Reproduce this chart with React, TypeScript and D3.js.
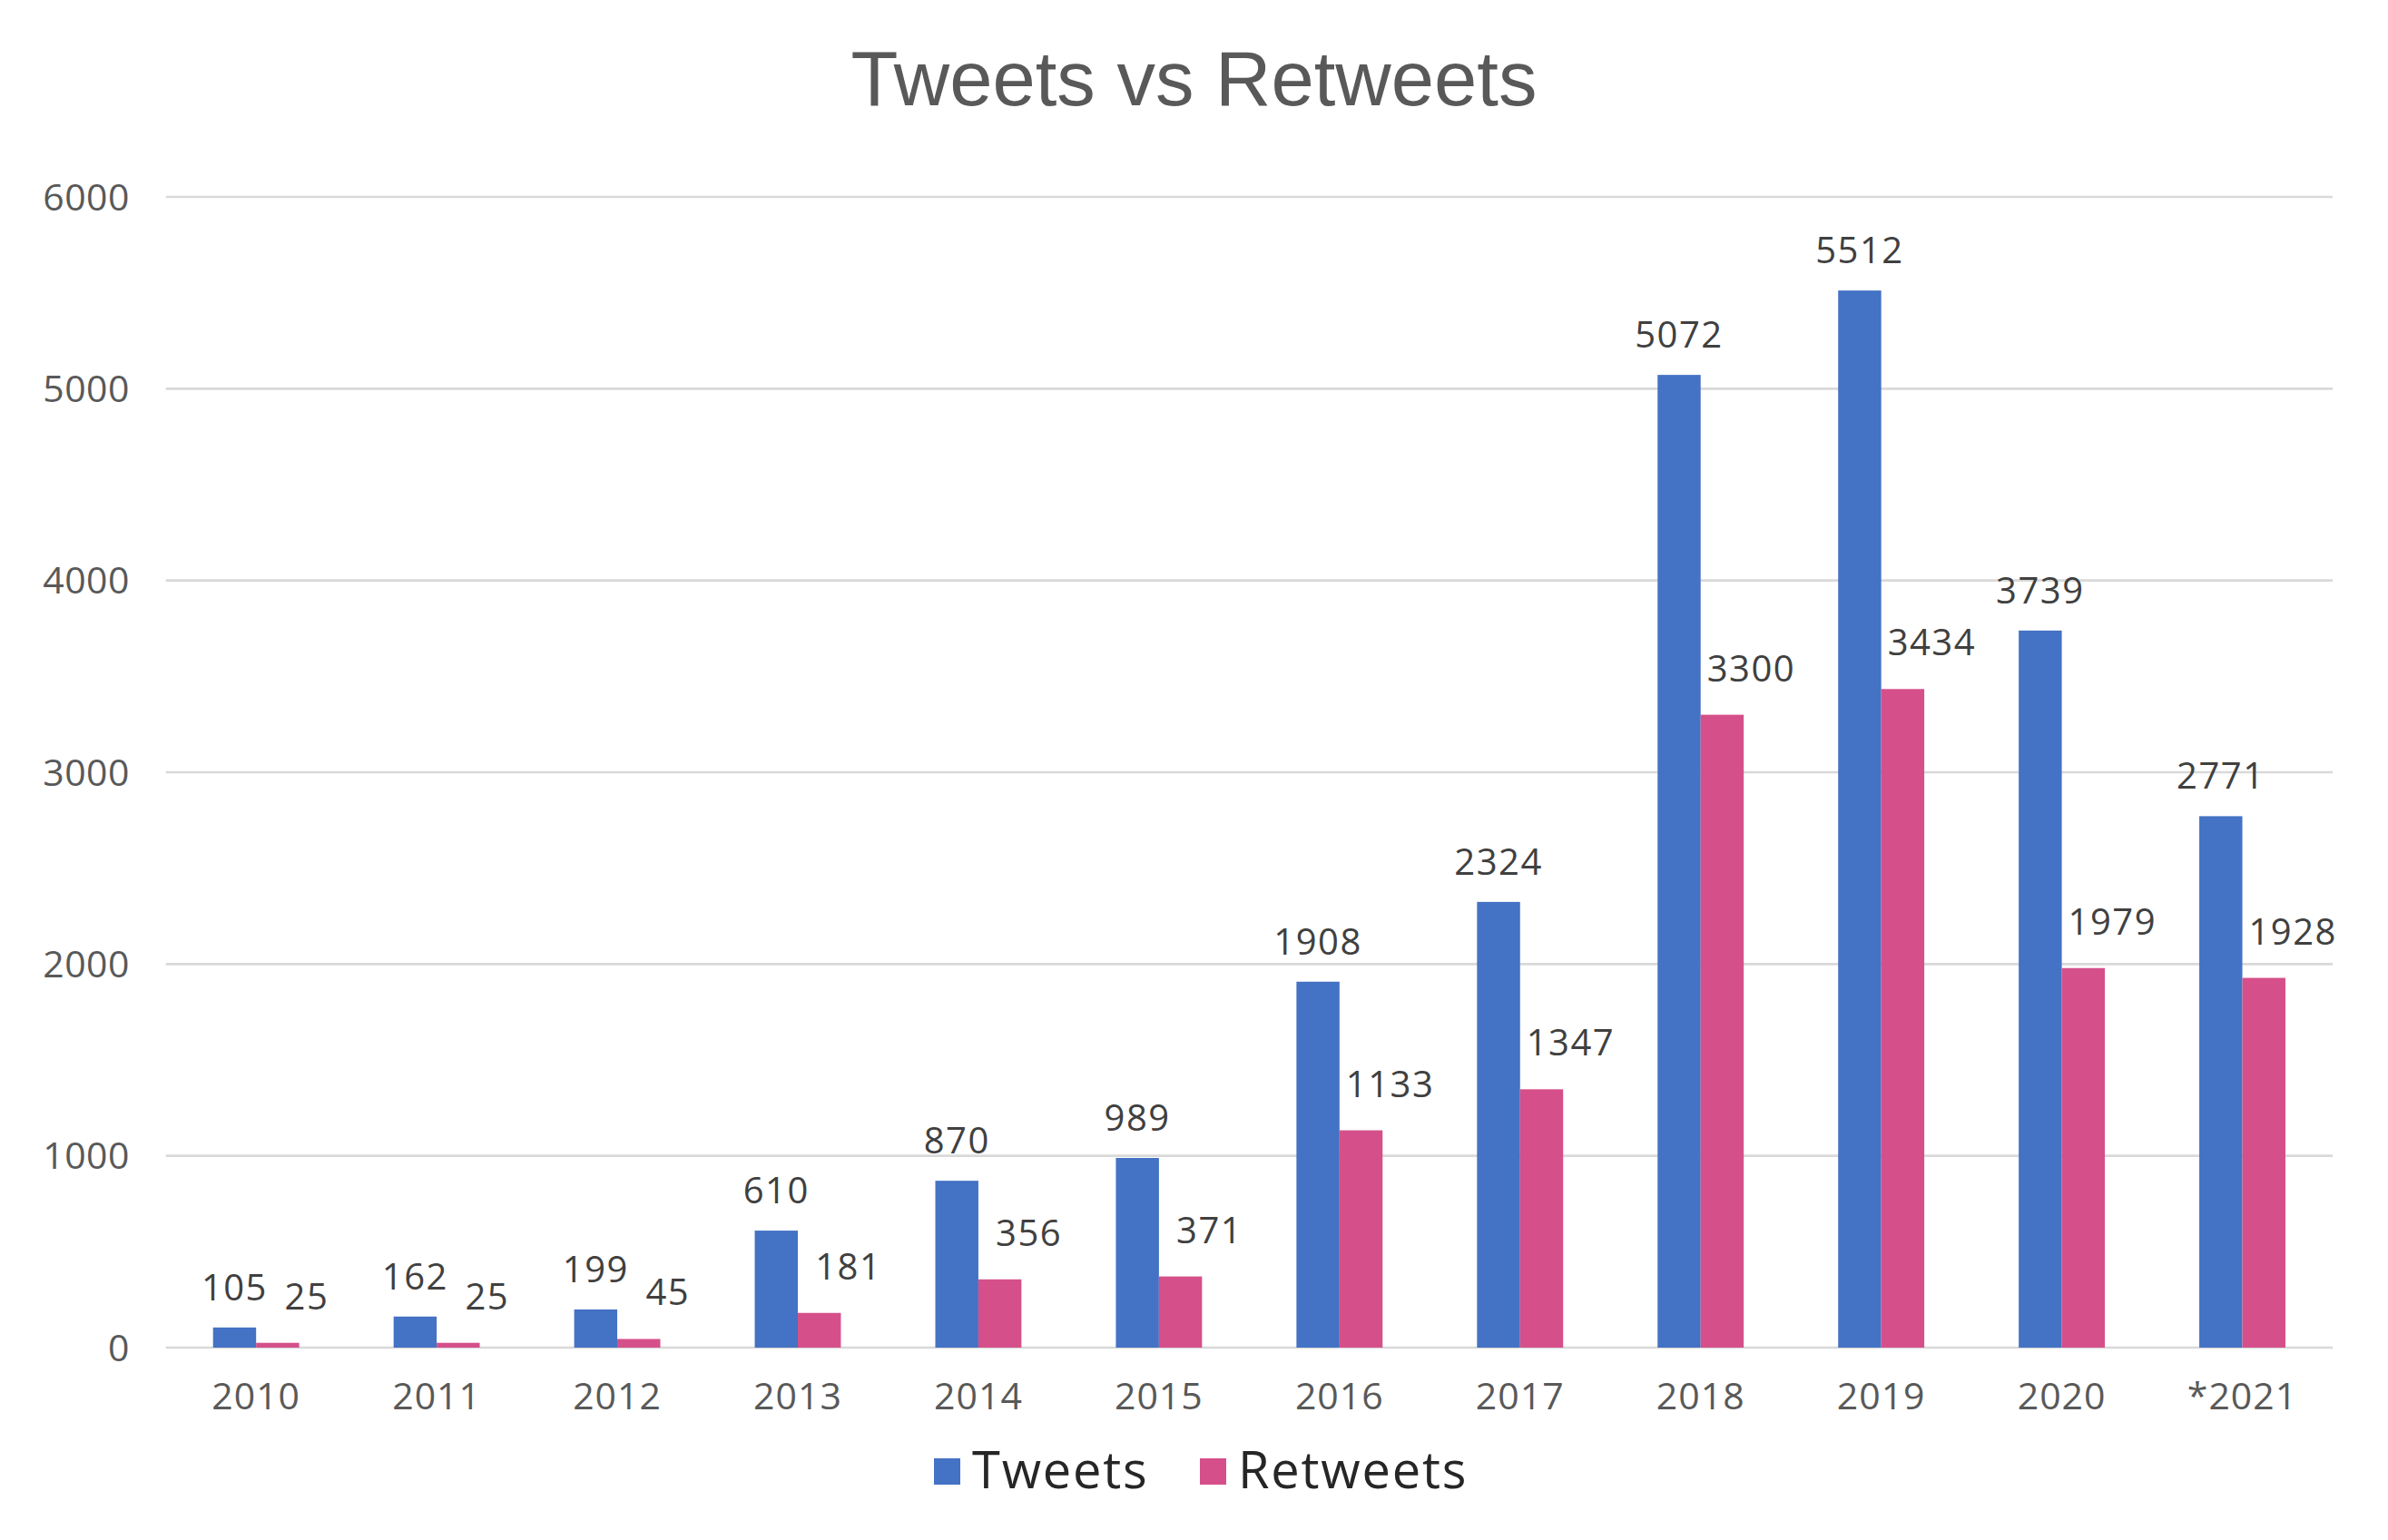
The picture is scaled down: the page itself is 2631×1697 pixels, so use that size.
import React from "react";
import * as d3 from "d3";

const categories = ["2010", "2011", "2012", "2013", "2014", "2015", "2016", "2017", "2018", "2019", "2020", "*2021"];
const tweets = [105, 162, 199, 610, 870, 989, 1908, 2324, 5072, 5512, 3739, 2771];
const retweets = [25, 25, 45, 181, 356, 371, 1133, 1347, 3300, 3434, 1979, 1928];
const seriesNames = ["Tweets", "Retweets"];
const yTicks = [0, 1000, 2000, 3000, 4000, 5000, 6000];

const W = 2631;
const H = 1697;
const colors = ["#4472C4", "#D5508A"];
const FONT = "'Open Sans', 'Noto Sans', sans-serif";

export default function App() {
  const left = 182.7;
  const right = 2570;
  const top = 217;
  const bottom = 1485;

  const x = d3.scaleBand<string>().domain(categories).range([left, right]).paddingInner(0.523).paddingOuter(0.2615);
  const inner = d3.scaleBand<string>().domain(seriesNames).range([0, x.bandwidth()]);
  const y = d3.scaleLinear().domain([0, 6000]).range([bottom, top]);
  const series = [tweets, retweets];

  return (
    <svg width={W} height={H} style={{ position: "absolute", left: 0, top: 0, background: "#fff" }}>
      <rect x={0} y={0} width={W} height={H} fill="#fff" />
      <text x={W / 2} y={116} textAnchor="middle" fontFamily="'Liberation Sans', Arial, sans-serif" fontSize={85} fill="#595959">
        Tweets vs Retweets
      </text>
      {yTicks.map((t) => (
        <g key={t}>
          <line x1={left} x2={right} y1={y(t)} y2={y(t)} stroke="#D9D9D9" strokeWidth={2.6} />
          <text x={143} y={y(t)} dy="0.36em" textAnchor="end" fontFamily={FONT} fontSize={41} letterSpacing={0.5} fill="#595959">
            {t}
          </text>
        </g>
      ))}
      {categories.map((c, i) => (
        <g key={c}>
          {series.map((vals, s) => {
            const bx = (x(c) as number) + (inner(seriesNames[s]) as number);
            const bw = inner.bandwidth();
            const v = vals[i];
            return (
              <g key={s}>
                <rect x={bx} y={y(v)} width={bw} height={y(0) - y(v)} fill={colors[s]} />
                <text
                  x={bx + bw / 2 + (s === 1 ? 32 : 0)}
                  y={y(v) - (s === 1 ? 37 : 30)}
                  textAnchor="middle"
                  fontFamily={FONT}
                  fontSize={40}
                  letterSpacing={1.5}
                  fill="#404040"
                >
                  {v}
                </text>
              </g>
            );
          })}
          <text x={(x(c) as number) + x.bandwidth() / 2} y={1553} textAnchor="middle" fontFamily={FONT} fontSize={41} letterSpacing={1} fill="#595959">
            {c}
          </text>
        </g>
      ))}
      {seriesNames.map((n, s) => {
        const lx = s === 0 ? 1029 : 1322;
        return (
          <g key={n}>
            <rect x={lx} y={1607} width={29} height={29} fill={colors[s]} />
            <text x={lx + 42} y={1640} fontFamily={FONT} fontSize={56} letterSpacing={1.8} fill="#262626">
              {n}
            </text>
          </g>
        );
      })}
    </svg>
  );
}
